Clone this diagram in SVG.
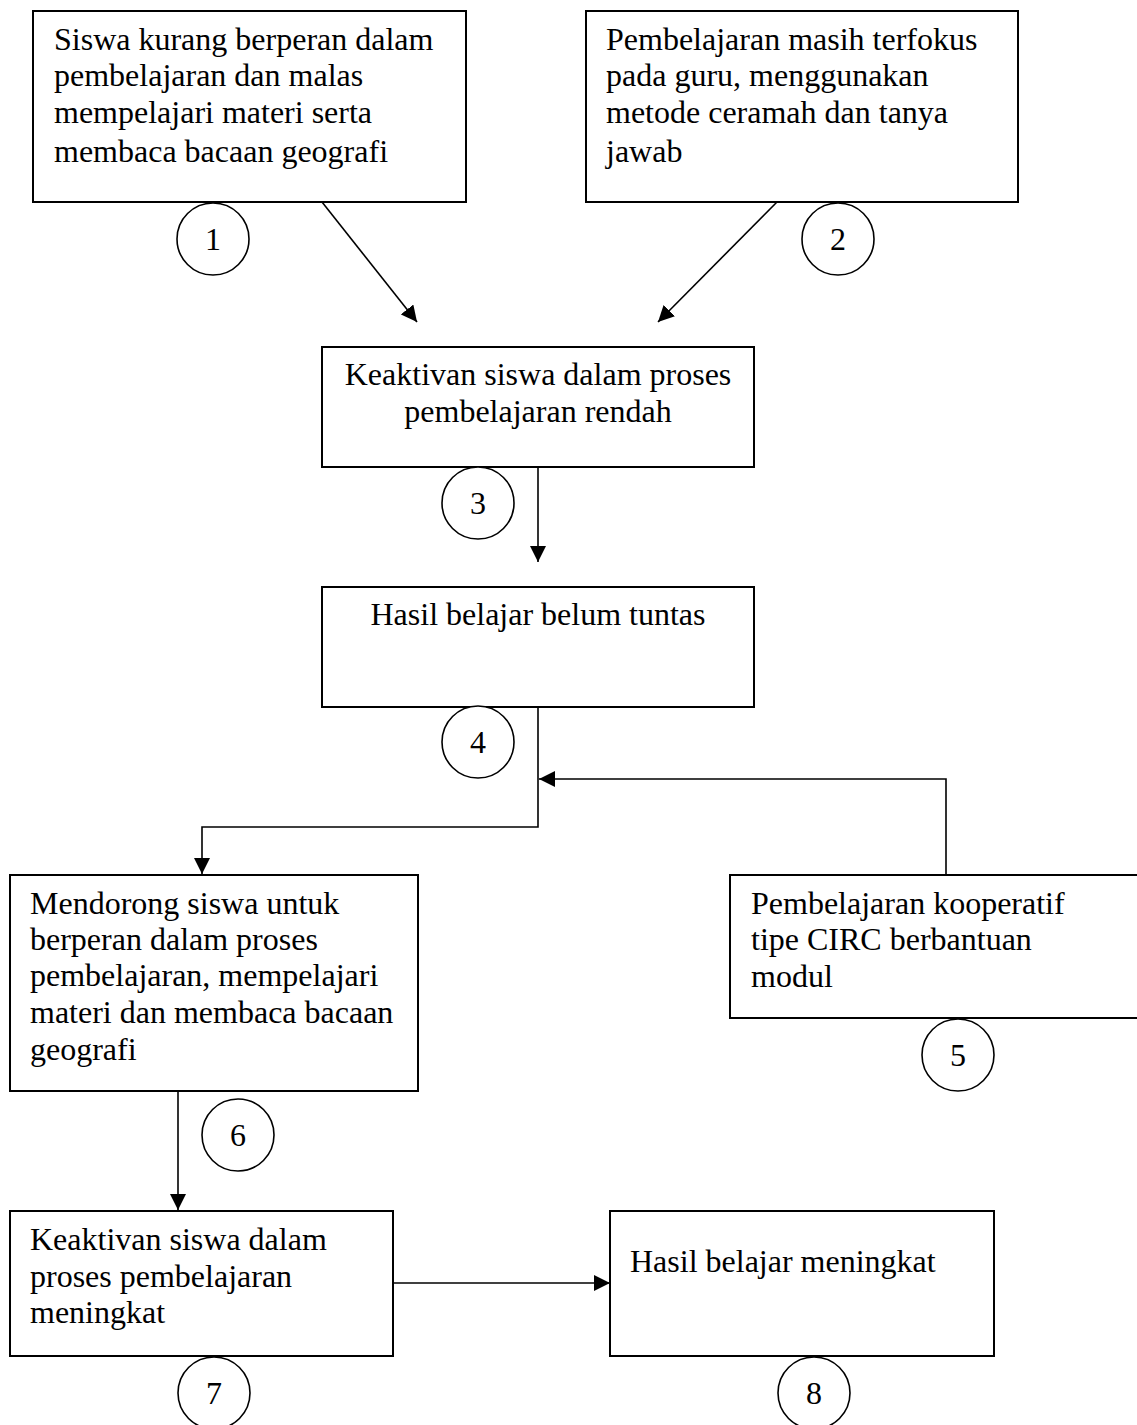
<svg xmlns="http://www.w3.org/2000/svg" width="1137" height="1425" viewBox="0 0 1137 1425">
<style>
.box{fill:#fff;stroke:#000;stroke-width:2}
.t{font-family:"Liberation Serif","Times New Roman",serif;font-size:32px;fill:#000}
.c{text-anchor:middle}
.num circle{fill:#fff;stroke:#000;stroke-width:1.6}
.num text{font-family:"Liberation Serif","Times New Roman",serif;font-size:32px;fill:#000;text-anchor:middle}
.ln{fill:none;stroke:#000;stroke-width:1.6}
</style>
<defs>
<marker id="ah" markerUnits="userSpaceOnUse" markerWidth="16" markerHeight="16" viewBox="0 0 16 16" refX="16" refY="8" orient="auto">
<path d="M0,0 L16,8 L0,16 Z" fill="#000"/>
</marker>
</defs>
<rect width="1137" height="1425" fill="#fff"/>
<g id="connectors">
<line class="ln" x1="322" y1="202" x2="417" y2="322" marker-end="url(#ah)"/>
<line class="ln" x1="777" y1="202" x2="658" y2="322" marker-end="url(#ah)"/>
<line class="ln" x1="538" y1="467" x2="538" y2="562" marker-end="url(#ah)"/>
<polyline class="ln" points="538,707 538,827 202,827 202,874" marker-end="url(#ah)"/>
<polyline class="ln" points="946,875 946,779 539,779" marker-end="url(#ah)"/>
<line class="ln" x1="178" y1="1091" x2="178" y2="1210" marker-end="url(#ah)"/>
<line class="ln" x1="393" y1="1283" x2="610" y2="1283" marker-end="url(#ah)"/>
</g>
<g id="node1">
<rect class="box" x="33" y="11" width="433" height="191"/>
<text class="t" x="54" y="50">Siswa kurang berperan dalam</text>
<text class="t" x="54" y="86">pembelajaran dan malas</text>
<text class="t" x="54" y="123">mempelajari materi serta</text>
<text class="t" x="54" y="162">membaca bacaan geografi</text>
</g>
<g id="node2">
<rect class="box" x="586" y="11" width="432" height="191"/>
<text class="t" x="606" y="50">Pembelajaran masih terfokus</text>
<text class="t" x="606" y="86">pada guru, menggunakan</text>
<text class="t" x="606" y="123">metode ceramah dan tanya</text>
<text class="t" x="606" y="162">jawab</text>
</g>
<g id="node3">
<rect class="box" x="322" y="347" width="432" height="120"/>
<text class="t c" x="538" y="385">Keaktivan siswa dalam proses</text>
<text class="t c" x="538" y="422">pembelajaran rendah</text>
</g>
<g id="node4">
<rect class="box" x="322" y="587" width="432" height="120"/>
<text class="t c" x="538" y="625">Hasil belajar belum tuntas</text>
</g>
<g id="node5">
<rect class="box" x="730" y="875" width="410" height="143"/>
<text class="t" x="751" y="914">Pembelajaran kooperatif</text>
<text class="t" x="751" y="950">tipe CIRC berbantuan</text>
<text class="t" x="751" y="987">modul</text>
</g>
<g id="node6">
<rect class="box" x="10" y="875" width="408" height="216"/>
<text class="t" x="30" y="914">Mendorong siswa untuk</text>
<text class="t" x="30" y="950">berperan dalam proses</text>
<text class="t" x="30" y="986">pembelajaran, mempelajari</text>
<text class="t" x="30" y="1023">materi dan membaca bacaan</text>
<text class="t" x="30" y="1060">geografi</text>
</g>
<g id="node7">
<rect class="box" x="10" y="1211" width="383" height="145"/>
<text class="t" x="30" y="1250">Keaktivan siswa dalam</text>
<text class="t" x="30" y="1287">proses pembelajaran</text>
<text class="t" x="30" y="1323">meningkat</text>
</g>
<g id="node8">
<rect class="box" x="610" y="1211" width="384" height="145"/>
<text class="t" x="630" y="1272">Hasil belajar meningkat</text>
</g>
<g id="label1" class="num"><circle cx="213" cy="239" r="36"/><text x="213" y="250">1</text></g>
<g id="label2" class="num"><circle cx="838" cy="239" r="36"/><text x="838" y="250">2</text></g>
<g id="label3" class="num"><circle cx="478" cy="503" r="36"/><text x="478" y="514">3</text></g>
<g id="label4" class="num"><circle cx="478" cy="742" r="36"/><text x="478" y="753">4</text></g>
<g id="label5" class="num"><circle cx="958" cy="1055" r="36"/><text x="958" y="1066">5</text></g>
<g id="label6" class="num"><circle cx="238" cy="1135" r="36"/><text x="238" y="1146">6</text></g>
<g id="label7" class="num"><circle cx="214" cy="1393" r="36"/><text x="214" y="1404">7</text></g>
<g id="label8" class="num"><circle cx="814" cy="1393" r="36"/><text x="814" y="1404">8</text></g>
</svg>
